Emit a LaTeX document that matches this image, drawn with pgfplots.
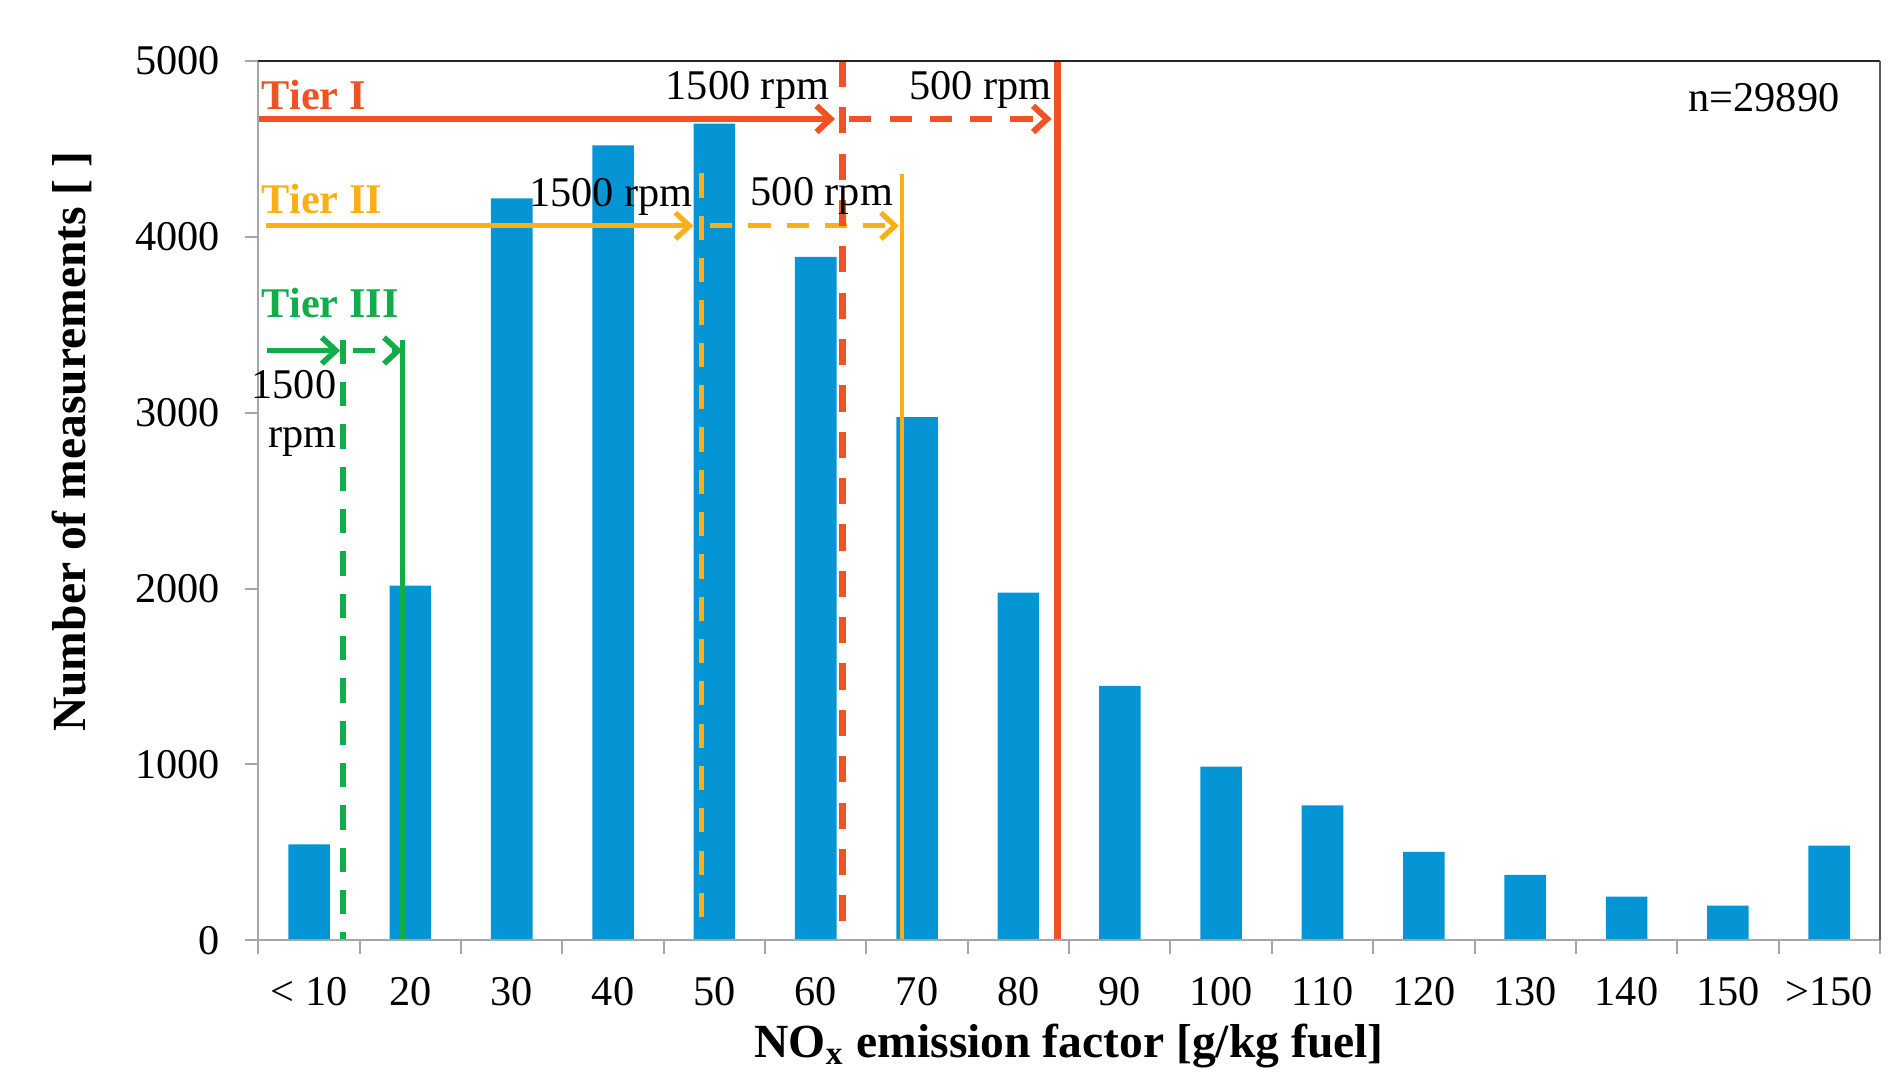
\documentclass[border=0pt]{standalone}
\usepackage{fontspec}
\setmainfont{Liberation Serif}
\usepackage{pgfplots}
\usepackage{pgfplotstable}
\pgfplotsset{compat=1.18}
\usetikzlibrary{arrows.meta,calc}

\definecolor{barblue}{RGB}{5,148,212}
\definecolor{tierred}{RGB}{240,83,35}
\definecolor{tierorange}{RGB}{253,175,24}
\definecolor{tiergreen}{RGB}{18,173,75}
\definecolor{axgray}{RGB}{166,166,166}

% bin index, number of measurements
\pgfplotstableread{
idx count
0  545
1  2016
2  4218
3  4520
4  4643
5  3885
6  2975
7  1977
8  1447
9  987
10 767
11 503
12 372
13 249
14 197
15 539
}\noxdata

\newcommand{\ticksize}{\fontsize{10.5}{12}\selectfont}
\newcommand{\labsize}{\fontsize{11.8}{14}\selectfont}

\begin{document}
\begin{tikzpicture}
\begin{axis}[
  name=ax,
  scale only axis,
  width=402.3pt, height=218.2pt,
  xmin=-0.5, xmax=15.5,
  ymin=0, ymax=5000,
  clip=false,
  axis line style={draw=none},
  xtick={0,...,15},
  xticklabels={< 10,20,30,40,50,60,70,80,90,100,110,120,130,140,150,>150},
  minor xtick={-0.5,0.5,...,15.5},
  every major x tick/.append style={draw=none},
  ytick={0,1000,...,5000},
  tick align=outside,
  tick pos=left,
  major tick length=3.3pt,
  minor tick length=3.3pt,
  tick style={axgray, line width=0.5pt},
  ticklabel style={font=\ticksize},
  yticklabel style={xshift=-2.7pt},
  xticklabel style={yshift=-2.4pt},
  /pgf/number format/assume math mode=true,
  /pgf/number format/1000 sep={},
  tierline/.style={mark=none},
  tip/.style={-{Straight Barb[length=3.5pt,width=6.5pt]}},
]

\addplot[ybar, bar width=0.41, fill=barblue, draw=none] table[x=idx, y=count] {\noxdata};

% Tier III (green)
\addplot[tierline, tiergreen, line width=1.5pt, dash pattern=on 6pt off 4.5pt] coordinates {(0.339,3414) (0.339,0)};
\addplot[tierline, tiergreen, line width=1.15pt] coordinates {(0.925,3414) (0.925,0)};
\addplot[tierline, tiergreen, line width=1.4pt, tip] coordinates {(-0.417,3353) (0.306,3353)};
\addplot[tierline, tiergreen, line width=1.4pt, dash pattern=on 5.5pt off 4pt, tip] coordinates {(0.437,3353) (0.92,3353)};

% Tier II (orange)
\addplot[tierline, tierorange, line width=1.2pt, dash pattern=on 6pt off 4.5pt] coordinates {(3.875,4360) (3.875,80)};
\addplot[tierline, tierorange, line width=0.9pt] coordinates {(5.85,4356) (5.85,0)};
\addplot[tierline, tierorange, line width=1.3pt, tip] coordinates {(-0.424,4062) (3.792,4062)};
\addplot[tierline, tierorange, line width=1.3pt, dash pattern=on 5.5pt off 4pt, tip] coordinates {(3.957,4062) (5.82,4062)};

% Tier I (red)
\addplot[tierline, tierred, line width=1.8pt, dash pattern=on 6.5pt off 5pt] coordinates {(5.262,5000) (5.262,0)};
\addplot[tierline, tierred, line width=1.6pt] coordinates {(7.383,5000) (7.383,0)};
\addplot[tierline, tierred, line width=1.5pt, tip] coordinates {(-0.5,4670) (5.19,4670)};
\addplot[tierline, tierred, line width=1.5pt, dash pattern=on 5.5pt off 4.5pt, tip] coordinates {(5.33,4670) (7.327,4670)};

% frame
\draw[axgray, line width=0.45pt] (rel axis cs:0,0) -- (rel axis cs:0,1);
\draw[axgray, line width=0.5pt] (rel axis cs:0,0) -- (rel axis cs:1,0);
\draw[black!85, line width=0.45pt] (rel axis cs:0,1) -- (rel axis cs:1,1);
\draw[black!65, line width=0.5pt] (rel axis cs:1,0) -- (rel axis cs:1,1);

% annotations
\node[anchor=base west, inner sep=0, text=tierred, font=\bfseries\ticksize] at (axis cs:-0.473,4722) {Tier I};
\node[anchor=base east, inner sep=0, font=\ticksize] at (axis cs:5.14,4782) {1500 rpm};
\node[anchor=base east, inner sep=0, font=\ticksize] at (axis cs:7.337,4782) {500 rpm};
\node[anchor=base west, inner sep=0, text=tierorange, font=\bfseries\ticksize] at (axis cs:-0.473,4134) {Tier II};
\node[anchor=base east, inner sep=0, font=\ticksize] at (axis cs:3.792,4172) {1500 rpm};
\node[anchor=base west, inner sep=0, font=\ticksize] at (axis cs:4.35,4175) {500 rpm};
\node[anchor=base west, inner sep=0, text=tiergreen, font=\bfseries\ticksize] at (axis cs:-0.473,3543) {Tier III};
\node[anchor=base east, inner sep=0, font=\ticksize] at (axis cs:0.277,3079) {1500};
\node[anchor=base east, inner sep=0, font=\ticksize] at (axis cs:0.277,2800) {rpm};
\node[anchor=base east, inner sep=0, font=\ticksize] at (axis cs:15.108,4712) {n=29890};
\end{axis}

% axis titles
\node[anchor=base, inner sep=0, font=\bfseries\labsize] at ($(ax.south)+(0,-29pt)$) {NO\textsubscript{x} emission factor [g/kg fuel]};
\node[rotate=90, anchor=center, inner sep=0, font=\bfseries\labsize] at ($(ax.south west)!0.567!(ax.north west)+(-46.2pt,0)$) {Number of measurements [ ]};

\pgfresetboundingbox
\path[use as bounding box] ($(ax.south west)+(-64.1pt,-33.1pt)$) rectangle ($(ax.north east)+(4pt,15.1pt)$);
\end{tikzpicture}
\end{document}
